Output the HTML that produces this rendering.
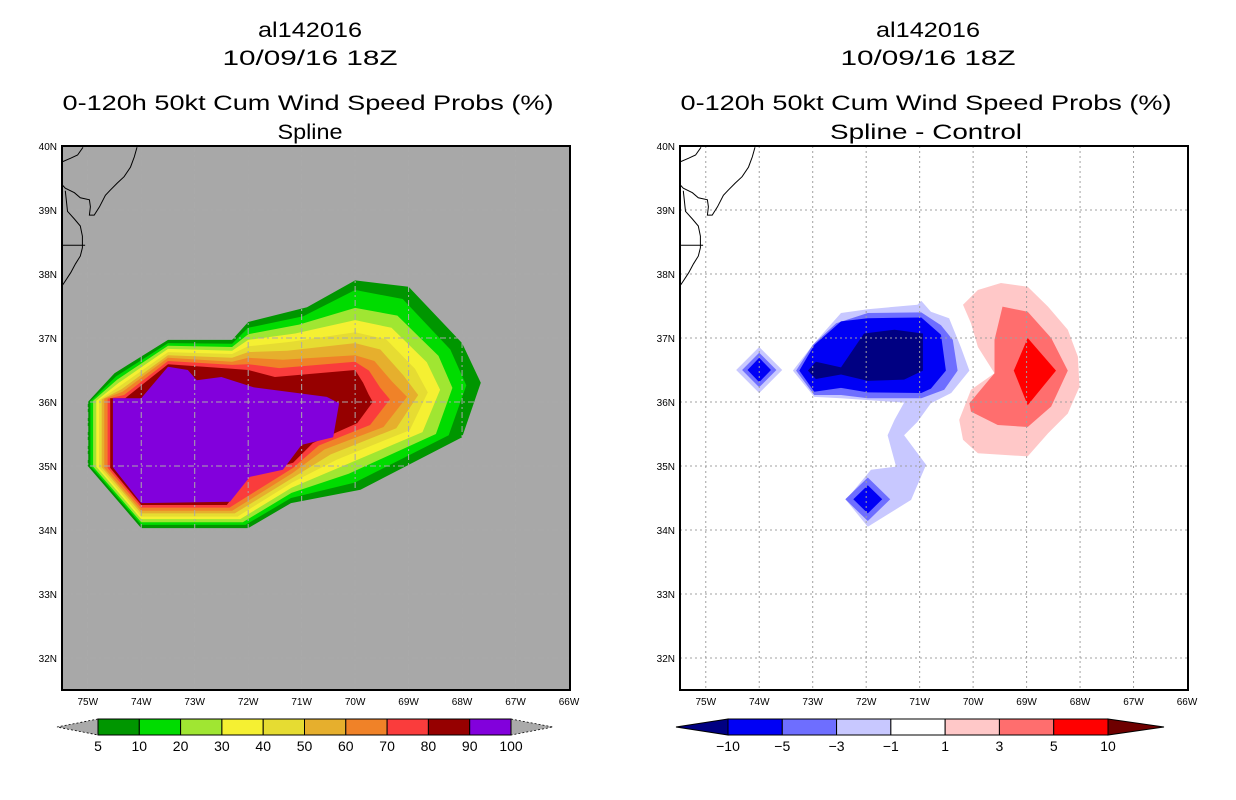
<!DOCTYPE html>
<html><head><meta charset="utf-8"><style>
html,body{margin:0;padding:0;background:#fff;}
svg{display:block;font-family:"Liberation Sans",sans-serif;}
</style></head><body>
<svg id="fig" width="1236" height="800" viewBox="0 0 1236 800">
<defs>
<clipPath id="clipL"><rect x="62" y="146" width="508" height="544"/></clipPath>
<clipPath id="clipR"><rect x="680" y="146" width="508" height="544"/></clipPath>
</defs>
<g id="left">
<text x="310" y="37" font-size="21" text-anchor="middle" textLength="104" lengthAdjust="spacingAndGlyphs">al142016</text>
<text x="310" y="65" font-size="21" text-anchor="middle" textLength="175" lengthAdjust="spacingAndGlyphs">10/09/16 18Z</text>
<text x="308" y="110" font-size="21" text-anchor="middle" textLength="491" lengthAdjust="spacingAndGlyphs">0-120h 50kt Cum Wind Speed Probs (%)</text>
<text x="310" y="139" font-size="21" text-anchor="middle" textLength="65" lengthAdjust="spacingAndGlyphs">Spline</text>
<rect x="62" y="146" width="508" height="544" fill="#a8a8a8"/>
<g id="contL" clip-path="url(#clipL)"></g>
</g>
<g id="right">
<text x="928" y="37" font-size="21" text-anchor="middle" textLength="104" lengthAdjust="spacingAndGlyphs">al142016</text>
<text x="928" y="65" font-size="21" text-anchor="middle" textLength="175" lengthAdjust="spacingAndGlyphs">10/09/16 18Z</text>
<text x="926" y="110" font-size="21" text-anchor="middle" textLength="491" lengthAdjust="spacingAndGlyphs">0-120h 50kt Cum Wind Speed Probs (%)</text>
<text x="926" y="139" font-size="21" text-anchor="middle" textLength="192" lengthAdjust="spacingAndGlyphs">Spline - Control</text>
<rect x="680" y="146" width="508" height="544" fill="#fff"/>
<g id="contR" clip-path="url(#clipR)"></g>
</g>
<g id="overlay"></g>
</svg>
<script>
// ---- data (longitude in degrees West, latitude in degrees North) ----
const lonTicks = [75,74,73,72,71,70,69,68,67,66];
const latTicks = [40,39,38,37,36,35,34,33,32];
const probLevels = [5,10,20,30,40,50,60,70,80,90,100];
const probColors = ["#009600","#00dc00","#a0e632","#f5f032","#e6dc32","#e6af2d","#f08228","#fa3c3c","#960000","#8200dc"];
const prob5  = [[75.0,36.0],[74.5,36.45],[73.5,36.97],[72.3,36.97],[72.0,37.25],[70.9,37.48],[70.0,37.9],[69.0,37.8],[68.0,36.92],[67.65,36.3],[68.0,35.45],[69.9,34.63],[71.2,34.42],[72.0,34.03],[74.0,34.03],[75.0,35.0]];
const prob10 = [[74.95,36.01],[74.47,36.40],[73.5,36.92],[72.3,36.91],[72.0,37.16],[70.97,37.34],[70.0,37.75],[69.11,37.61],[68.22,36.82],[67.92,36.26],[68.25,35.48],[70.01,34.74],[71.2,34.5],[72.05,34.08],[74.0,34.08],[74.95,35.0]];
const prob20 = [[74.9,36.02],[74.45,36.35],[73.5,36.88],[72.3,36.86],[72.0,37.06],[71.05,37.21],[70.0,37.47],[69.21,37.35],[68.44,36.72],[68.18,36.22],[68.49,35.5],[70.12,34.88],[71.19,34.58],[72.1,34.12],[74.0,34.12],[74.9,34.99]];
const prob30 = [[74.84,36.02],[74.42,36.30],[73.5,36.83],[72.3,36.8],[72.0,36.97],[71.12,37.07],[70.0,37.28],[69.32,37.16],[68.66,36.62],[68.41,36.19],[68.74,35.53],[70.23,35.0],[71.19,34.66],[72.15,34.17],[74.0,34.17],[74.84,34.99]];
const prob40 = [[74.79,36.03],[74.4,36.25],[73.5,36.78],[72.3,36.75],[72.0,36.87],[71.2,36.94],[70.0,37.09],[69.42,36.98],[68.88,36.52],[68.64,36.15],[68.98,35.56],[70.34,35.1],[71.18,34.74],[72.2,34.21],[74.0,34.21],[74.79,34.98]];
const prob50 = [[74.74,36.04],[74.37,36.2],[73.5,36.73],[72.3,36.69],[72.0,36.78],[71.27,36.8],[70.0,36.92],[69.53,36.82],[69.1,36.42],[68.82,36.11],[69.23,35.59],[70.46,35.18],[71.18,34.81],[72.25,34.26],[74.0,34.26],[74.74,34.98]];
const prob60 = [[74.69,36.05],[74.35,36.16],[73.5,36.69],[72.3,36.63],[72.0,36.69],[71.35,36.66],[70.0,36.73],[69.64,36.64],[69.31,36.32],[69.03,36.08],[69.47,35.61],[70.57,35.26],[71.17,34.89],[72.3,34.3],[74.0,34.3],[74.69,34.97]];
const prob70 = [[74.63,36.05],[74.32,36.11],[73.5,36.64],[72.3,36.58],[72.0,36.59],[71.42,36.53],[70.0,36.63],[69.74,36.49],[69.53,36.22],[69.35,36.04],[69.72,35.64],[70.68,35.32],[71.16,34.97],[72.35,34.35],[74.0,34.35],[74.63,34.97]];
const prob80 = [[74.58,36.06],[74.3,36.06],[73.5,36.59],[72.3,36.52],[72.0,36.5],[71.5,36.39],[70.0,36.5],[69.85,36.3],[69.75,36.12],[69.67,36.0],[69.96,35.67],[70.79,35.36],[71.16,35.05],[71.97,34.86],[72.4,34.39],[74.0,34.39],[74.58,34.97]];
const prob90 = [[74.53,36.06],[74.0,36.06],[73.5,36.55],[73.13,36.5],[72.96,36.34],[72.5,36.39],[71.9,36.23],[70.53,36.08],[70.3,35.98],[70.41,35.45],[71.0,35.33],[71.35,34.94],[71.97,34.83],[72.34,34.44],[74.0,34.42],[74.53,34.98]];
const probSeries = [prob5,prob10,prob20,prob30,prob40,prob50,prob60,prob70,prob80,prob90];

const diffLevels = [-10,-5,-3,-1,1,3,5,10];
const diffColors = ["#000082","#0000f5","#6e6eff","#c8c8ff","#ffffff","#ffc8c8","#ff6e6e","#ff0000","#6e0000"];
const diffNeg1 = [[73.37,36.49],[72.97,36.92],[72.47,37.39],[71.97,37.45],[71.04,37.52],[70.97,37.58],[70.79,37.41],[70.45,37.31],[70.23,36.86],[70.07,36.49],[70.41,36.14],[70.79,35.98],[71.04,35.69],[71.29,35.48],[70.88,35.02],[71.16,34.47],[71.97,34.05],[72.38,34.47],[71.91,34.94],[71.44,34.99],[71.6,35.48],[71.47,35.72],[71.29,35.99],[72.47,36.06],[72.97,36.08]];
const diffNeg3 = [[73.31,36.49],[73.0,36.89],[72.56,37.23],[71.97,37.39],[70.97,37.4],[70.6,37.2],[70.38,36.97],[70.29,36.49],[70.54,36.19],[70.97,36.06],[71.97,36.06],[72.47,36.11],[72.97,36.11]];
const diffNeg5 = [[73.25,36.49],[72.97,36.89],[72.47,37.26],[71.97,37.31],[70.97,37.32],[70.6,37.05],[70.51,36.49],[70.79,36.21],[70.97,36.14],[71.97,36.15],[72.47,36.22],[72.97,36.16]];
const diffNeg10 = [[73.09,36.49],[72.94,36.63],[72.47,36.54],[72.04,37.07],[71.47,37.13],[70.94,37.07],[70.94,36.49],[71.29,36.35],[71.97,36.33],[72.47,36.43],[72.94,36.36]];
const diffPos1 = [[70.19,37.52],[69.91,37.75],[69.48,37.86],[68.98,37.8],[68.6,37.49],[68.23,37.13],[68.04,36.71],[68.01,36.24],[68.23,35.82],[68.6,35.51],[68.98,35.15],[69.91,35.2],[70.19,35.41],[70.26,35.72],[70.04,36.19],[69.6,36.45],[69.91,36.86],[70.04,37.23]];
const diffPos3 = [[69.45,37.49],[68.98,37.41],[68.54,37.0],[68.23,36.49],[68.54,35.93],[68.98,35.61],[69.54,35.64],[70.04,35.85],[70.07,35.98],[69.6,36.45],[69.6,36.97]];
const diffPos5 = [[68.98,37.0],[68.45,36.49],[68.98,35.95],[69.24,36.49]];
// isolated minima: [lon, lat, level index (color), half-width lon, half-height lat]
const diffDiamonds = [[74.0,36.5,3,0.43,0.36],[74.0,36.5,2,0.32,0.27],[74.0,36.5,1,0.22,0.19],[71.97,34.48,2,0.42,0.34],[71.97,34.48,1,0.27,0.22]];

const coast1 = [[75.51,39.74],[75.32,39.81],[75.19,39.86],[75.09,39.98]];
const coast2 = [[75.53,39.44],[75.42,39.34],[75.25,39.27],[75.14,39.19],[74.97,39.16],[74.95,39.05],[74.97,38.92],[74.88,38.92],[74.78,39.05],[74.67,39.23],[74.58,39.31],[74.45,39.42],[74.32,39.52],[74.2,39.67],[74.13,39.83],[74.08,39.98]];
const coast3 = [[75.42,39.3],[75.38,38.98],[75.25,38.86],[75.14,38.75],[75.1,38.59],[75.1,38.41],[75.14,38.28],[75.23,38.16],[75.32,38.02],[75.42,37.89],[75.51,37.78]];
const stateLine = [[75.5,38.45],[75.05,38.45]];

// ---- axis functions ----
const OFF_R = 618;
function xPos(lonW, off){ return 569 + off - (lonW - 66) * 53.47; }
function yPos(lat){ return 146 + (40 - lat) * 64; }
const NS = "http://www.w3.org/2000/svg";
function mk(tag, attrs, parent){ const e = document.createElementNS(NS, tag); for (const k in attrs) e.setAttribute(k, attrs[k]); parent.appendChild(e); return e; }
function pts(arr, off){ return arr.map(p => xPos(p[0], off).toFixed(1) + "," + yPos(p[1]).toFixed(1)).join(" "); }

const contL = document.getElementById("contL");
const contR = document.getElementById("contR");
const overlay = document.getElementById("overlay");

probSeries.forEach((poly, i) => {
  const el = mk("polygon", {points: pts(poly, 0), fill: probColors[i]}, contL);
  
  
});

const rightPolys = [[diffPos1,5],[diffPos3,6],[diffPos5,7],[diffNeg1,3],[diffNeg3,2],[diffNeg5,1],[diffNeg10,0]];
rightPolys.forEach(pc => {
  const el = mk("polygon", {points: pts(pc[0], OFF_R), fill: diffColors[pc[1]]}, contR);
  
  
});
diffDiamonds.forEach(d => {
  const poly = [[d[0]+d[3], d[1]], [d[0], d[1]+d[4]], [d[0]-d[3], d[1]], [d[0], d[1]-d[4]]];
  const el = mk("polygon", {points: pts(poly, OFF_R), fill: diffColors[d[2]]}, contR);
  
  
});

[[contL,0,"#aaaaaa","6,3,2,3"],[contR,OFF_R,"#a0a0a0","2,3"]].forEach(cfg => {
  const [g, off, col, dash] = cfg;
  lonTicks.slice(0, 9).forEach(l => {
    const el = mk("line", {x1: xPos(l, off), x2: xPos(l, off), y1: 146, y2: 690, stroke: col, "stroke-width": 1, "stroke-dasharray": dash}, g);
    
    
  });
  latTicks.slice(1).forEach(l => {
    const el = mk("line", {x1: 62 + off, x2: 570 + off, y1: yPos(l), y2: yPos(l), stroke: col, "stroke-width": 1, "stroke-dasharray": dash}, g);
    
    
  });
  [coast1, coast2, coast3, stateLine].forEach(c => {
    const el = mk("polyline", {points: pts(c, off), fill: "none", stroke: "#000", "stroke-width": 1}, g);
    
    
  });
  const fr = mk("rect", {x: 62 + off, y: 146, width: 508, height: 544, fill: "none", stroke: "#000", "stroke-width": 2}, overlay);
  
  
  lonTicks.forEach(l => {
    const t = mk("text", {x: xPos(l, off), y: 705, "font-size": 10, "text-anchor": "middle"}, overlay);
    t.textContent = l + "W";
    
    
  });
  latTicks.forEach(l => {
    const t = mk("text", {x: 57 + off, y: yPos(l) + 4, "font-size": 10, "text-anchor": "end"}, overlay);
    t.textContent = l + "N";
    
    
  });
});

(function(){
  const x0 = 98, x1 = 511, y0 = 719, h = 16, n = probColors.length, w = (x1 - x0) / n;
  const lt = mk("polygon", {points: `${x0},${y0} 57,${y0+h/2} ${x0},${y0+h}`, fill: "#aaaaaa", stroke: "#000", "stroke-width": 0.8, "stroke-dasharray": "2,2"}, overlay);
  
  
  const rt = mk("polygon", {points: `${x1},${y0} 553,${y0+h/2} ${x1},${y0+h}`, fill: "#aaaaaa", stroke: "#000", "stroke-width": 0.8, "stroke-dasharray": "2,2"}, overlay);
  
  
  probColors.forEach((c, i) => {
    const r = mk("rect", {x: x0 + i * w, y: y0, width: w, height: h, fill: c, stroke: "#000", "stroke-width": 1}, overlay);
    
    
  });
  probLevels.forEach((v, i) => {
    const t = mk("text", {x: x0 + i * w, y: 751, "font-size": 14, "text-anchor": "middle"}, overlay);
    t.textContent = v;
    
    
  });
})();

(function(){
  const x0 = 728, x1 = 1108, y0 = 719, h = 16, n = diffColors.length - 2, w = (x1 - x0) / n;
  const lt = mk("polygon", {points: `${x0},${y0} 676,${y0+h/2} ${x0},${y0+h}`, fill: diffColors[0], stroke: "#000", "stroke-width": 1}, overlay);
  
  
  const rt = mk("polygon", {points: `${x1},${y0} 1164,${y0+h/2} ${x1},${y0+h}`, fill: diffColors[diffColors.length-1], stroke: "#000", "stroke-width": 1}, overlay);
  
  
  for (let i = 0; i < n; i++) {
    const r = mk("rect", {x: x0 + i * w, y: y0, width: w, height: h, fill: diffColors[i + 1], stroke: "#000", "stroke-width": 1}, overlay);
    
    
  }
  diffLevels.forEach((v, i) => {
    const t = mk("text", {x: x0 + i * w, y: 751, "font-size": 14, "text-anchor": "middle"}, overlay);
    t.textContent = v < 0 ? "\u2212" + Math.abs(v) : String(v);
    
    
  });
})();
</script>
</body></html>
